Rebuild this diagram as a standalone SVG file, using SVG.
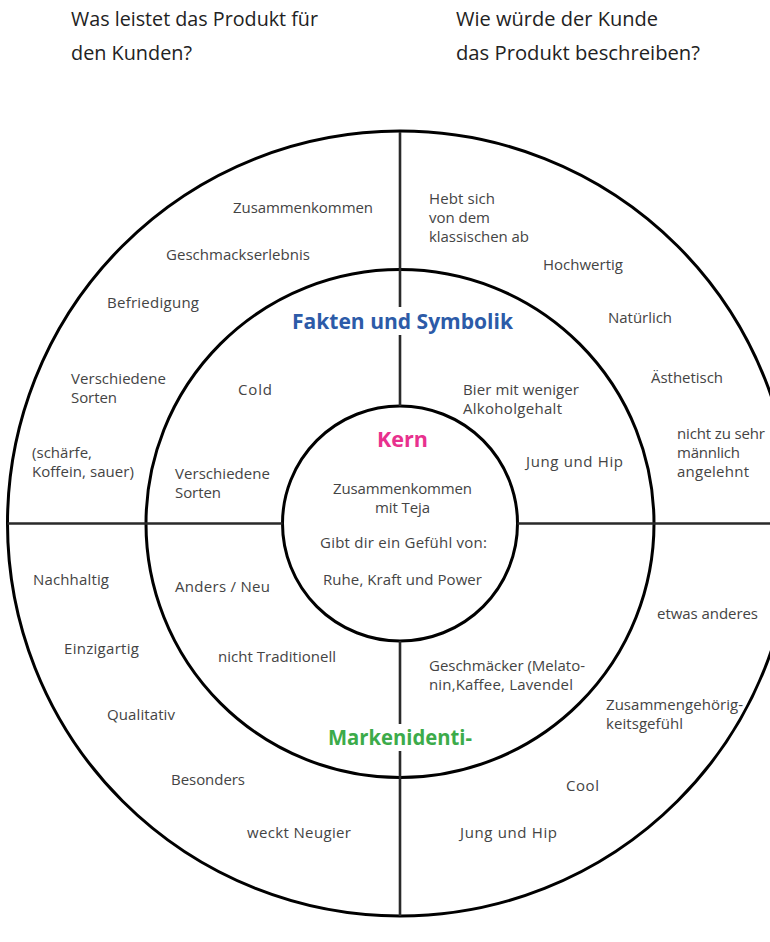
<svg xmlns="http://www.w3.org/2000/svg" width="770" height="942" viewBox="0 0 770 942">
<style>
.ring{fill:none;stroke:#000;stroke-width:3}
.div{stroke:#2a2a2a;stroke-width:2.6;fill:none}
.hd{font-family:"Open Sans","Liberation Sans",sans-serif;font-size:19.5px;fill:#222}
.lb{font-family:"Open Sans","Liberation Sans",sans-serif;font-size:15px;fill:#444}
.c{text-anchor:middle}
.tt{font-family:"Open Sans","Liberation Sans",sans-serif;font-size:21.5px;font-weight:bold}
</style>
<rect width="770" height="942" fill="#fff"/>
<g id="frame">
<circle class="ring" cx="400" cy="523.5" r="392.5"/>
<circle class="ring" cx="400" cy="523.5" r="254"/>
<circle class="ring" cx="400" cy="523.5" r="117.5"/>
</g>
<g id="connectors">
<path class="div" d="M400 132V307M400 335V406M400 641V724M400 751V916M7.5 523.5H282.5M517.5 523.5H770"/>
</g>
<g id="header-left">
<text class="hd" x="71" y="26" textLength="247" lengthAdjust="spacingAndGlyphs">Was leistet das Produkt für</text>
<text class="hd" x="71" y="60" textLength="121" lengthAdjust="spacingAndGlyphs">den Kunden?</text>
</g>
<g id="header-right">
<text class="hd" x="456" y="26" textLength="202" lengthAdjust="spacingAndGlyphs">Wie würde der Kunde</text>
<text class="hd" x="456" y="60" textLength="244" lengthAdjust="spacingAndGlyphs">das Produkt beschreiben?</text>
</g>
<g id="title-fakten">
<text class="tt" x="292" y="329" fill="#2c5ba8" textLength="221" lengthAdjust="spacingAndGlyphs">Fakten und Symbolik</text>
</g>
<g id="title-kern">
<text class="tt" x="377" y="447" fill="#e8318e" textLength="51" lengthAdjust="spacingAndGlyphs">Kern</text>
</g>
<g id="title-marke">
<text class="tt" x="328" y="745" fill="#3cab4a" textLength="144" lengthAdjust="spacingAndGlyphs">Markenidenti-</text>
</g>
<g id="q-top-left-outer">
<text class="lb" x="233" y="213" textLength="140">Zusammenkommen</text>
<text class="lb" x="166" y="260" textLength="144">Geschmackserlebnis</text>
<text class="lb" x="107" y="308" textLength="92">Befriedigung</text>
<text class="lb" x="71" y="384" textLength="95">Verschiedene</text>
<text class="lb" x="71" y="403" textLength="46">Sorten</text>
<text class="lb" x="32" y="458" textLength="60">(schärfe,</text>
<text class="lb" x="32" y="477" textLength="102">Koffein, sauer)</text>
</g>
<g id="q-top-left-inner">
<text class="lb" x="238" y="395" textLength="34">Cold</text>
<text class="lb" x="175" y="479" textLength="95">Verschiedene</text>
<text class="lb" x="175" y="498" textLength="46">Sorten</text>
</g>
<g id="q-top-right-outer">
<text class="lb" x="429" y="204" textLength="66">Hebt sich</text>
<text class="lb" x="429" y="223" textLength="61">von dem</text>
<text class="lb" x="429" y="242" textLength="100">klassischen ab</text>
<text class="lb" x="543" y="270" textLength="80">Hochwertig</text>
<text class="lb" x="608" y="323" textLength="64">Natürlich</text>
<text class="lb" x="651" y="383" textLength="72">Ästhetisch</text>
<text class="lb" x="677" y="439" textLength="88">nicht zu sehr</text>
<text class="lb" x="677" y="458" textLength="63">männlich</text>
<text class="lb" x="677" y="477" textLength="72">angelehnt</text>
</g>
<g id="q-top-right-inner">
<text class="lb" x="463" y="395" textLength="116">Bier mit weniger</text>
<text class="lb" x="463" y="414" textLength="99">Alkoholgehalt</text>
<text class="lb" x="526" y="467" textLength="97">Jung und Hip</text>
</g>
<g id="core">
<text class="lb c" x="402.5" y="494" textLength="139">Zusammenkommen</text>
<text class="lb c" x="402.5" y="513" textLength="55">mit Teja</text>
<text class="lb c" x="403.5" y="548" textLength="167">Gibt dir ein Gefühl von:</text>
<text class="lb c" x="402.5" y="585" textLength="159">Ruhe, Kraft und Power</text>
</g>
<g id="q-bottom-left-outer">
<text class="lb" x="33" y="585" textLength="76">Nachhaltig</text>
<text class="lb" x="64" y="654" textLength="75">Einzigartig</text>
<text class="lb" x="107" y="720" textLength="68">Qualitativ</text>
<text class="lb" x="171" y="785" textLength="74">Besonders</text>
<text class="lb" x="247" y="838" textLength="104">weckt Neugier</text>
</g>
<g id="q-bottom-left-inner">
<text class="lb" x="175" y="592" textLength="95">Anders / Neu</text>
<text class="lb" x="218" y="662" textLength="118">nicht Traditionell</text>
</g>
<g id="q-bottom-right-inner">
<text class="lb" x="429" y="671" textLength="156">Geschmäcker (Melato-</text>
<text class="lb" x="429" y="690" textLength="144">nin,Kaffee, Lavendel</text>
</g>
<g id="q-bottom-right-outer">
<text class="lb" x="657" y="619" textLength="101">etwas anderes</text>
<text class="lb" x="606" y="710" textLength="137">Zusammengehörig-</text>
<text class="lb" x="606" y="729" textLength="77">keitsgefühl</text>
<text class="lb" x="566" y="791" textLength="33">Cool</text>
<text class="lb" x="460" y="838" textLength="97">Jung und Hip</text>
</g>
</svg>
